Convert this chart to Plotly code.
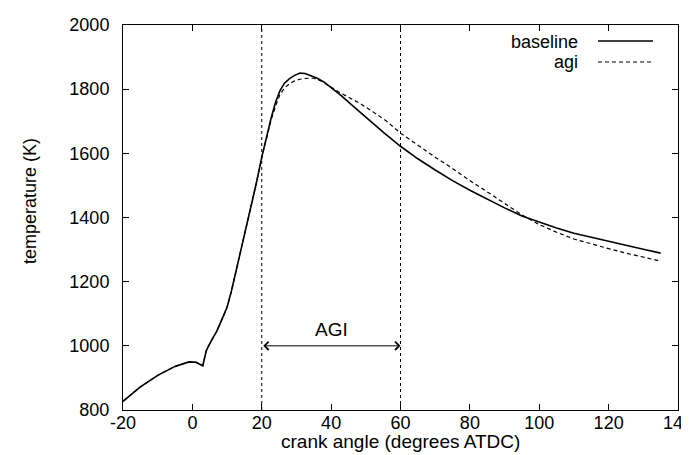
import plotly.graph_objects as go

# ---- data ----
crank_baseline = [-20, -15, -10, -5, -1, 1, 3, 4, 5.4, 7, 8.3, 10, 11.2, 12.5, 14.1, 15.5, 17, 18.5,
                  20, 21.5, 22.7, 24, 25.2, 26.5, 28, 29.5, 31, 32.5, 34, 36, 38, 40, 43, 46, 50,
                  55, 60, 65, 70, 75, 80, 85, 90, 95, 100, 105, 110, 115, 120, 125, 130, 135]
temp_baseline = [827, 872, 908, 936, 950, 949, 938, 985, 1015, 1045, 1077, 1120, 1168, 1228, 1303, 1370, 1439, 1510,
                 1588, 1660, 1710, 1760, 1794, 1818, 1833, 1843, 1850, 1849, 1843, 1834, 1822, 1805, 1779, 1750, 1712,
                 1666, 1622, 1583, 1548, 1515, 1485, 1457, 1430, 1405, 1385, 1367, 1351, 1338, 1326, 1313, 1301, 1289]

crank_agi = [-20, -15, -10, -5, -1, 1, 3, 4, 5.4, 7, 8.3, 10, 11.2, 12.5, 14.1, 15.5, 17, 18.5,
             20, 21.5, 22.7, 24, 25.2, 26.5, 28, 29.5, 31, 33, 35, 37, 39, 42, 45, 48.6, 52,
             56, 60, 65, 70, 75, 80, 85, 90, 95, 100, 105, 110, 115, 120, 125, 130, 135]
temp_agi = [827, 872, 908, 936, 950, 949, 938, 985, 1015, 1045, 1077, 1120, 1168, 1228, 1303, 1370, 1439, 1510,
            1586, 1655, 1704, 1748, 1782, 1803, 1817, 1826, 1831, 1834, 1834, 1826, 1812, 1793, 1775, 1754, 1730,
            1700, 1663, 1625, 1588, 1553, 1515, 1480, 1445, 1408, 1378, 1354, 1333, 1317, 1303, 1289, 1276, 1264]

agi_window = [20, 60]
arrow_temp = 1000
arrow_label_temp = 1050
arrow_label = "AGI"

x_ticks = [-20, 0, 20, 40, 60, 80, 100, 120, 140]
y_ticks = [800, 1000, 1200, 1400, 1600, 1800, 2000]
x_range = [-20, 140]
y_range = [800, 2000]

series_names = ["baseline", "agi"]
x_title = "crank angle (degrees ATDC)"
y_title = "temperature (K)"

FONT = "Liberation Sans, Arial, Helvetica, sans-serif"
FS_TICK = 18
FS_TEXT = 19

fig = go.Figure()
fig.add_trace(go.Scatter(x=crank_baseline, y=temp_baseline, mode="lines",
                         line=dict(color="black", width=1.6), name=series_names[0], showlegend=False))
fig.add_trace(go.Scatter(x=crank_agi, y=temp_agi, mode="lines",
                         line=dict(color="black", width=1.2, dash="4px,3px"), name=series_names[1], showlegend=False))

# dotted vertical lines marking the AGI window
for xv in agi_window:
    fig.add_shape(type="line", xref="x", yref="paper", x0=xv, x1=xv, y0=0, y1=1,
                  line=dict(color="black", width=1, dash="dot"))

# double-headed arrow
fig.add_annotation(x=agi_window[1], y=arrow_temp, ax=agi_window[0], ay=arrow_temp,
                   xref="x", yref="y", axref="x", ayref="y", text="", showarrow=True,
                   arrowhead=4, startarrowhead=4, arrowside="end+start", arrowsize=1.6,
                   arrowwidth=1, arrowcolor="black", startarrowsize=1.6)
fig.add_annotation(x=sum(agi_window) / 2, y=arrow_label_temp, xref="x", yref="y", text=arrow_label,
                   showarrow=False, font=dict(family=FONT, size=FS_TEXT, color="black"))

# legend (gnuplot style: text right-aligned, sample on the right)
legend_rows = [0.9584, 0.9039]
legend_styles = [dict(color="black", width=1.6), dict(color="black", width=1.2, dash="4px,3px")]
for name, yy, st in zip(series_names, legend_rows, legend_styles):
    fig.add_annotation(x=0.8234, y=yy, xref="paper", yref="paper", text=name, showarrow=False,
                       xanchor="right", yanchor="middle", height=21, valign="middle",
                       font=dict(family=FONT, size=FS_TICK, color="black"))
    fig.add_shape(type="line", xref="paper", yref="paper", x0=0.8559, x1=0.9550, y0=yy, y1=yy, line=st)

# axis titles
fig.add_annotation(x=-0.1676, y=0.543, xref="paper", yref="paper", text=y_title, textangle=-90,
                   showarrow=False, xanchor="center", yanchor="middle",
                   font=dict(family=FONT, size=FS_TICK, color="black"))
fig.add_annotation(x=0.5, y=-0.081, xref="paper", yref="paper", text=x_title,
                   showarrow=False, xanchor="center", yanchor="middle",
                   font=dict(family=FONT, size=FS_TEXT, color="black"))

axis_common = dict(showgrid=False, zeroline=False, showline=True, linecolor="black", linewidth=1,
                   mirror="ticks", ticks="inside", ticklen=6, tickwidth=1, tickcolor="black",
                   tickfont=dict(family=FONT, size=FS_TICK, color="black"))
fig.update_xaxes(range=x_range, tickvals=x_ticks, ticktext=[str(v) for v in x_ticks],
                 ticklabelstandoff=-4, **axis_common)
fig.update_yaxes(range=y_range, tickvals=y_ticks, ticktext=[str(v) for v in y_ticks],
                 ticklabelstandoff=9, **axis_common)

fig.update_layout(width=689, height=455, margin=dict(l=115, r=19, t=17, b=53, autoexpand=False),
                  paper_bgcolor="white", plot_bgcolor="white", showlegend=False,
                  font=dict(family=FONT, size=FS_TICK, color="black"))

fig.write_html("out.html")
